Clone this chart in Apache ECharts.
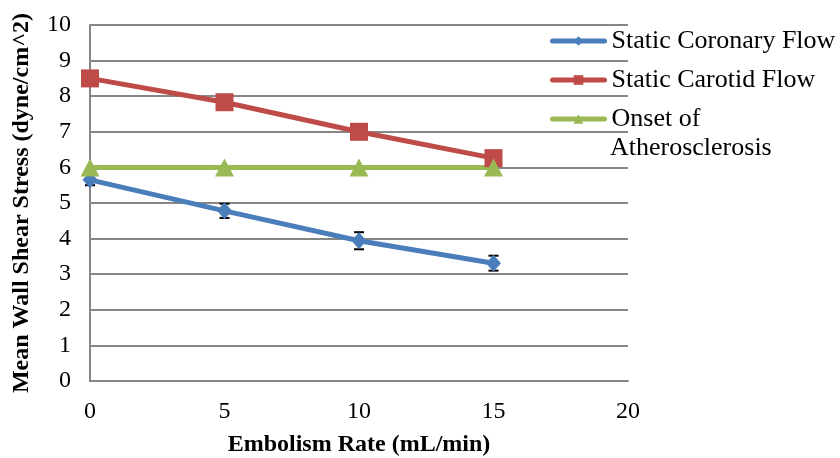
<!DOCTYPE html>
<html><head><meta charset="utf-8">
<script src="https://cdn.jsdelivr.net/npm/echarts@6/dist/echarts.min.js"></script>
<style>html,body{margin:0;padding:0;background:#fff}#c{width:840px;height:458px}</style>
</head><body><div id="c"></div>
<script>
const xValues = [0, 5, 10, 15];
const coronary = [5.65, 4.78, 3.94, 3.31];
const coronaryErr = [0.15, 0.2, 0.24, 0.21];
const carotid = [8.5, 7.83, 7.0, 6.26];
const onset = [6, 6, 6, 6];
const seriesNames = ['Static Coronary Flow', 'Static Carotid Flow', 'Onset of'];
const onsetSecondLine = 'Atherosclerosis';

const serif = 'Liberation Serif';
const chart = echarts.init(document.getElementById('c'), null, {renderer: 'canvas'});
const pair = arr => xValues.map((x, i) => [x, arr[i]]);
chart.setOption({
  animation: false,
  grid: {left: 90, right: 212, top: 25, bottom: 77, containLabel: false, outerBoundsMode: 'none'},
  xAxis: {
    type: 'value', min: 0, max: 20, interval: 5,
    name: 'Embolism Rate (mL/min)', nameLocation: 'middle', nameGap: 52,
    nameTextStyle: {fontFamily: serif, fontWeight: 'bold', fontSize: 24, color: '#000'},
    axisLine: {show: true, lineStyle: {color: '#868686', width: 2}},
    axisTick: {show: false},
    axisLabel: {fontFamily: serif, fontSize: 24, color: '#000', margin: 19},
    splitLine: {show: false}
  },
  yAxis: {
    type: 'value', min: 0, max: 10, interval: 1,
    name: 'Mean Wall Shear Stress (dyne/cm^2)', nameLocation: 'middle', nameGap: 56,
    nameTextStyle: {fontFamily: serif, fontWeight: 'bold', fontSize: 24, color: '#000'},
    axisLine: {show: true, lineStyle: {color: '#868686', width: 2}},
    axisTick: {show: false},
    axisLabel: {fontFamily: serif, fontSize: 24, color: '#000', margin: 19},
    splitLine: {show: true, lineStyle: {color: '#868686', width: 2}}
  },
  legend: {
    orient: 'vertical', left: 550, top: 27, itemWidth: 52, itemHeight: 12, itemGap: 11,
    padding: 0,
    data: seriesNames,
    lineStyle: {width: 5, cap: 'round'},
    textStyle: {fontFamily: serif, fontSize: 26, color: '#000', lineHeight: 28, padding: [0, 0, 0, 2]}
  },
  graphic: [{
    type: 'text', left: 610, top: 135,
    style: {text: onsetSecondLine, fontFamily: serif, fontSize: 26, fill: '#000'}
  }],
  series: [
    {
      type: 'custom', name: 'err', z: 1, silent: true,
      data: xValues.map((x, i) => [x, coronary[i] - coronaryErr[i], coronary[i] + coronaryErr[i]]),
      renderItem: (params, api) => {
        const lo = api.coord([api.value(0), api.value(1)]);
        const hi = api.coord([api.value(0), api.value(2)]);
        const w = 5;
        const st = {stroke: '#000', lineWidth: 2};
        return {type: 'group', children: [
          {type: 'line', shape: {x1: lo[0], y1: lo[1], x2: hi[0], y2: hi[1]}, style: st},
          {type: 'line', shape: {x1: lo[0]-w, y1: lo[1], x2: lo[0]+w, y2: lo[1]}, style: st},
          {type: 'line', shape: {x1: hi[0]-w, y1: hi[1], x2: hi[0]+w, y2: hi[1]}, style: st}
        ]};
      }
    },
    {
      type: 'line', name: seriesNames[0], data: pair(coronary), z: 3,
      symbol: 'diamond', symbolSize: [15, 17],
      lineStyle: {color: '#4A7EBB', width: 5}, itemStyle: {color: '#4A7EBB'}
    },
    {
      type: 'line', name: seriesNames[1], data: pair(carotid), z: 3,
      symbol: 'rect', symbolSize: 18,
      lineStyle: {color: '#BE4B48', width: 5}, itemStyle: {color: '#BE4B48'}
    },
    {
      type: 'line', name: seriesNames[2], data: pair(onset), z: 3,
      symbol: 'triangle', symbolSize: [19, 18],
      lineStyle: {color: '#98B954', width: 5}, itemStyle: {color: '#98B954'}
    }
  ]
});
</script></body></html>
